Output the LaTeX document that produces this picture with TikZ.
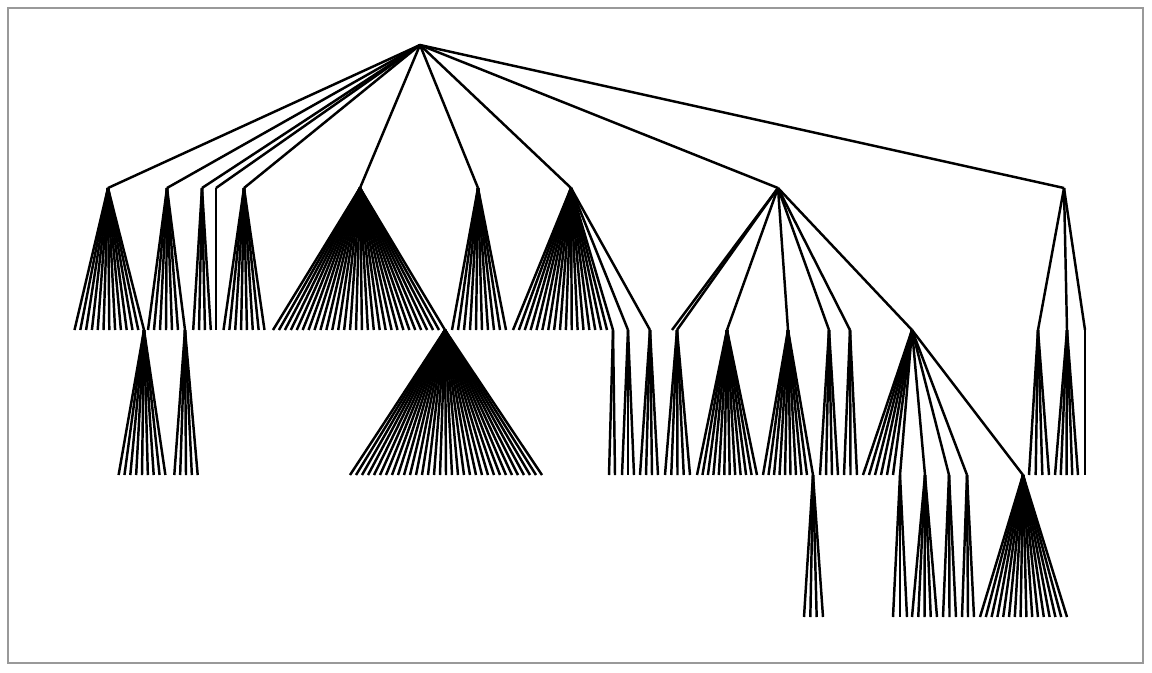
\documentclass[tikz,border=0pt]{standalone}
\usepackage{tikz}

% fan of leaves below a parent: parent, first x, last x, count, level y
\newcommand{\fan}[5]{%
  \foreach \i in {1,...,#4}{
    \coordinate (#1-\i) at ({#2+(\i-1)*(#3-#2)/(#4-1)},#5);
    \draw[edge] (#1) -- (#1-\i);
  }}

\begin{document}
\begin{tikzpicture}[x=0.75pt, y=-0.75pt,
  edge/.style={line width=1.85pt},
  frame/.style={draw=gray!80, line width=0.9pt}]
\useasboundingbox (0,0) rectangle (1152,672);
\draw[frame] (8,8) rectangle (1143,663);
% root and first level
\coordinate (root) at (420,45);
\coordinate (a) at (108,188);
\coordinate (b) at (167,188);
\coordinate (c) at (202,188);
\coordinate (d) at (216,188);
\coordinate (e) at (244,188);
\coordinate (f) at (360,188);
\coordinate (g) at (478,188);
\coordinate (h) at (571,188);
\coordinate (i) at (778,188);
\coordinate (k) at (1064,188);
\foreach \n in {a,b,c,d,e,f,g,h,i,k}\draw[edge] (root) -- (\n);
% inner nodes, second and third level
\coordinate (a1) at (144,330);
\coordinate (b1) at (185,330);
\coordinate (f1) at (445,330);
\coordinate (h1) at (613,330);
\coordinate (h2) at (628,330);
\coordinate (h3) at (650,330);
\coordinate (i0) at (672,330);
\coordinate (i1) at (677,330);
\coordinate (i2) at (727,330);
\coordinate (i3) at (788,330);
\coordinate (i4) at (829,330);
\coordinate (i5) at (850,330);
\coordinate (j) at (912,330);
\coordinate (k1) at (1038,330);
\coordinate (k2) at (1067,330);
\coordinate (k3) at (1085,330);
\coordinate (i3a) at (813,475);
\coordinate (j1) at (900,475);
\coordinate (j2) at (925,475);
\coordinate (j3) at (949,475);
\coordinate (j4) at (967,475);
\coordinate (j5) at (1023,475);
\foreach \a/\b in {a/a1,b/b1,f/f1,h/h1,h/h2,h/h3,i/i0,i/i1,i/i2,i/i3,i/i4,i/i5,i/j,
  k/k1,k/k2,k/k3,i3/i3a,j/j1,j/j2,j/j3,j/j4,j/j5}\draw[edge] (\a) -- (\b);
% single leaves
\coordinate (d-1) at (216,330);
\coordinate (k3-1) at (1085,475);
\draw[edge] (d) -- (d-1);
\draw[edge] (k3) -- (k3-1);
% leaf fans
\fan{a}{74.5}{138.3}{12}{330}
\fan{a1}{118.6}{165.4}{9}{475}
\fan{b}{148}{178}{6}{330}
\fan{b1}{174.3}{197.7}{5}{475}
\fan{c}{193.2}{210.8}{4}{330}
\fan{e}{223.5}{264.5}{8}{330}
\fan{f}{273}{439}{29}{330}
\fan{f1}{350}{542}{33}{475}
\fan{g}{452}{506}{10}{330}
\fan{h}{513}{607}{17}{330}
\fan{h1}{609}{615}{2}{475}
\fan{h2}{622}{634}{3}{475}
\fan{h3}{640}{658}{4}{475}
\fan{i1}{665}{690}{5}{475}
\fan{i2}{697}{757}{12}{475}
\fan{i3}{763}{807}{9}{475}
\fan{i3a}{804}{823}{4}{617}
\fan{i4}{820}{838}{4}{475}
\fan{i5}{844}{857}{3}{475}
\fan{j}{863}{893}{6}{475}
\fan{j1}{893}{907}{3}{617}
\fan{j2}{912}{937}{5}{617}
\fan{j3}{943}{956}{3}{617}
\fan{j4}{962}{974}{3}{617}
\fan{j5}{980}{1067}{16}{617}
\fan{k1}{1029}{1049}{4}{475}
\fan{k2}{1055}{1078}{5}{475}
\end{tikzpicture}
\end{document}
